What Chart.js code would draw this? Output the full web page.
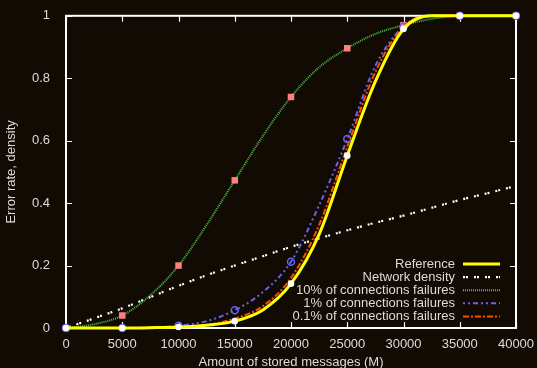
<!DOCTYPE html>
<html>
<head>
<meta charset="utf-8">
<script src="https://cdn.jsdelivr.net/npm/chart.js@4/dist/chart.umd.min.js"></script>
<style>
  html, body { margin: 0; padding: 0; background: #120b03; }
  canvas { display: block; }
</style>
</head>
<body>
<canvas id="errorChart" width="537" height="368"></canvas>
<script>
// Stored messages (M), read every 2500
const storedMessages = [0, 2500, 5000, 7500, 10000, 12500, 15000, 17500, 20000,
                        22500, 25000, 27500, 30000, 32500, 35000, 37500, 40000];

// Error rates / density
const referenceRate = [0, 0, 0, 0.001, 0.003, 0.009, 0.022, 0.058, 0.142,
                       0.30, 0.552, 0.79, 0.958, 1, 1, 1, 1];
const networkDensity = [0, 0.031, 0.063, 0.099, 0.135, 0.169, 0.2, 0.23, 0.26,
                        0.287, 0.313, 0.337, 0.36, 0.385, 0.41, 0.432, 0.455];
const failures10 = [0, 0.012, 0.04, 0.105, 0.2, 0.33, 0.473, 0.615, 0.74,
                    0.835, 0.896, 0.942, 0.97, 0.99, 1, 1, 1];
const failures1 = [0, 0, 0, 0.001, 0.007, 0.022, 0.057, 0.115, 0.212,
                   0.393, 0.605, 0.84, 0.965, 1, 1, 1, 1];
const failures01 = [0, 0, 0, 0.001, 0.004, 0.01, 0.03, 0.07, 0.16,
                    0.33, 0.58, 0.82, 0.965, 1, 1, 1, 1];

const xTicks = [0, 5000, 10000, 15000, 20000, 25000, 30000, 35000, 40000];
const yTicks = [0, 0.2, 0.4, 0.6, 0.8, 1];

const textColor = "#dcdcdc";
const fontFamily = "'Liberation Sans', Arial, sans-serif";

const toPoints = (values) => values.map((v, i) => ({ x: storedMessages[i], y: v }));
// markers only every 5000
const markerRadius = (r) => (ctx) => storedMessages[ctx.dataIndex] % 5000 === 0 ? r : 0;

// Frame with inward ticks on all four sides
const framePlugin = {
    id: "frame",
    beforeDatasetsDraw(chart) {
        const { ctx, chartArea: a, scales: { x, y } } = chart;
        ctx.save();
        ctx.strokeStyle = "#ffffff";
        ctx.lineWidth = 1.2;
        ctx.beginPath();
        xTicks.forEach(v => {
            const px = Math.round(x.getPixelForValue(v)) + 0.5;
            ctx.moveTo(px, a.bottom); ctx.lineTo(px, a.bottom - 6);
            ctx.moveTo(px, a.top); ctx.lineTo(px, a.top + 6);
        });
        yTicks.forEach(v => {
            const py = Math.round(y.getPixelForValue(v)) + 0.5;
            ctx.moveTo(a.left, py); ctx.lineTo(a.left + 6, py);
            ctx.moveTo(a.right, py); ctx.lineTo(a.right - 6, py);
        });
        ctx.stroke();
        ctx.lineWidth = 2;
        ctx.strokeRect(a.left, a.top, a.right - a.left, a.bottom - a.top);
        ctx.restore();
    }
};

// gnuplot-style key: text right aligned, line sample on its right
const keyPlugin = {
    id: "key",
    afterDraw(chart) {
        const { ctx, chartArea: a } = chart;
        ctx.save();
        ctx.font = "13px " + fontFamily;
        ctx.textAlign = "right";
        ctx.textBaseline = "middle";
        chart.data.datasets.forEach((ds, i) => {
            const yy = a.bottom - 64 + i * 13.1;
            ctx.fillStyle = textColor;
            ctx.fillText(ds.label, a.right - 61, yy + 0.5);
            ctx.strokeStyle = ds.borderColor;
            ctx.lineWidth = ds.borderWidth;
            ctx.setLineDash(ds.borderDash || []);
            ctx.beginPath();
            ctx.moveTo(a.right - 53, yy);
            ctx.lineTo(a.right - 16, yy);
            ctx.stroke();
        });
        ctx.restore();
    }
};

new Chart(document.getElementById("errorChart"), {
    type: "line",
    data: {
        datasets: [
            {
                label: "Reference",
                data: toPoints(referenceRate),
                borderColor: "#ffff00",
                borderWidth: 3,
                pointRadius: markerRadius(3.3),
                pointBackgroundColor: "#ffffff",
                pointBorderColor: "#ffffff",
                pointBorderWidth: 0,
                order: 0
            },
            {
                label: "Network density",
                data: toPoints(networkDensity),
                borderColor: "#ffffff",
                borderWidth: 2.2,
                borderDash: [2, 1, 2, 6],
                pointRadius: 0,
                order: 4
            },
            {
                label: "10% of connections failures",
                data: toPoints(failures10),
                borderColor: "#4cc04c",
                borderWidth: 2,
                borderDash: [1, 1],
                pointStyle: "rect",
                pointRadius: markerRadius(4.6),
                pointBackgroundColor: "#ff7f7f",
                pointBorderColor: "#ff7f7f",
                pointBorderWidth: 0,
                order: 3
            },
            {
                label: "1% of connections failures",
                data: toPoints(failures1),
                borderColor: "#6464f0",
                borderWidth: 2,
                borderDash: [2, 3, 2, 3, 5, 3],
                pointRadius: markerRadius(3.5),
                pointBackgroundColor: "rgba(0,0,0,0)",
                pointBorderColor: "#6464f0",
                pointBorderWidth: 1.5,
                order: 2
            },
            {
                label: "0.1% of connections failures",
                data: toPoints(failures01),
                borderColor: "#ff4a00",
                borderWidth: 2,
                borderDash: [6, 2, 2, 2],
                pointRadius: 0,
                order: 1
            }
        ]
    },
    options: {
        responsive: false,
        animation: false,
        devicePixelRatio: 1,
        layout: { padding: { top: 10, right: 21, left: 0, bottom: 0 } },
        elements: { line: { cubicInterpolationMode: "monotone", fill: false } },
        datasets: { line: { clip: false } },
        plugins: {
            legend: { display: false },
            tooltip: { enabled: false }
        },
        scales: {
            x: {
                type: "linear",
                min: 0,
                max: 40000,
                afterFit: (scale) => { scale.height = 40; },
                afterBuildTicks: (scale) => { scale.ticks = xTicks.map(v => ({ value: v })); },
                grid: { display: false },
                border: { display: false },
                ticks: {
                    color: textColor,
                    font: { size: 13, family: fontFamily },
                    padding: 1,
                    maxRotation: 0,
                    callback: (v) => String(v)
                },
                title: {
                    display: true,
                    text: "Amount of stored messages (M)",
                    color: textColor,
                    font: { size: 13, family: fontFamily },
                    padding: { top: 0, bottom: -2 }
                }
            },
            y: {
                min: 0,
                max: 1,
                afterFit: (scale) => { scale.width = 66; },
                afterBuildTicks: (scale) => { scale.ticks = yTicks.map(v => ({ value: v })); },
                grid: { display: false },
                border: { display: false },
                ticks: {
                    color: textColor,
                    font: { size: 13, family: fontFamily },
                    padding: 8,
                    callback: (v) => String(Math.round(v * 10) / 10)
                },
                title: {
                    display: true,
                    text: "Error rate, density",
                    color: textColor,
                    font: { size: 13, family: fontFamily },
                    padding: { top: 4, bottom: 0 }
                }
            }
        }
    },
    plugins: [framePlugin, keyPlugin]
});
</script>
</body>
</html>
